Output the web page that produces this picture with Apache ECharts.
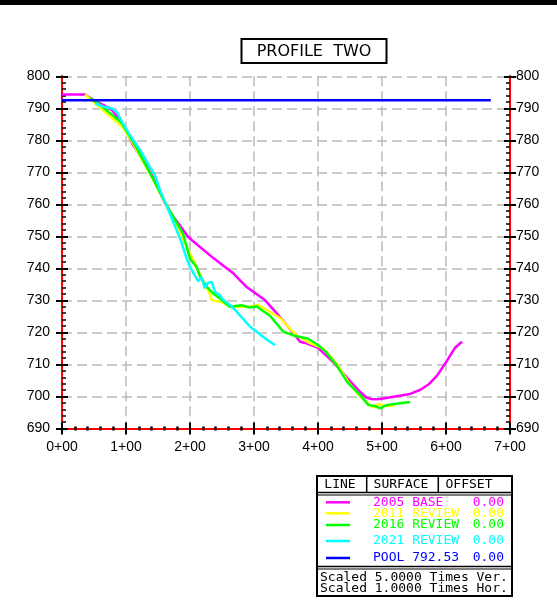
<!DOCTYPE html>
<html><head><meta charset="utf-8">
<script src="https://cdn.jsdelivr.net/npm/echarts@6/dist/echarts.min.js"></script>
<style>html,body{margin:0;padding:0;background:#fff}#c{width:557px;height:604px}</style>
</head><body><div id="c"></div>
<script>
// ---- data ----
const titleText = 'PROFILE  TWO';
const surfaceNames = ['2005 BASE', '2011 REVIEW', '2016 REVIEW', '2021 REVIEW', 'POOL 792.53'];
const offsets = ['0.00', '0.00', '0.00', '0.00', '0.00'];
const scaleNotes = ['Scaled 5.0000 Times Ver.', 'Scaled 1.0000 Times Hor.'];
const colors = ['#ff00ff', '#ffff00', '#00ff00', '#00ffff', '#0000ff'];

const base2005 = [[0,794.3],[36,794.3],[49,792.6],[65,791],[78,789.5],[88,787],[98,783.8],[111,778.5],[127,773.8],[145,767.5],[161,760.3],[174,756.1],[184,753.5],[197,749.9],[203,748.8],[236,743.3],[268,738.4],[289,734.1],[317,730.1],[336,725.9],[351,722.3],[362,719.7],[372,717.1],[382,716.6],[400,715.2],[425,710.5],[450,704.8],[466,701.4],[476,699.6],[486,699.1],[497,699.2],[518,699.9],[544,700.8],[560,702.1],[573,703.8],[586,706.5],[601,711],[614,715.2],[625,717.1]];
const review2011 = [[36,794.3],[96,783.8],[111,779],[143,767.6],[164,759.3],[184,751.2],[195,746.7],[205,742.6],[223,734.8],[229,733],[234,730.1],[247,729.6],[265,728],[283,728],[294,728],[307,728.6],[320,727],[341,724.5],[356,721.2],[367,719],[388,716.6],[408,715],[429,710.3],[447,704.6],[466,699.9],[481,697.3],[486,696.6],[494,697.6],[507,697],[520,697.2]];
const review2016 = [[44,793.2],[60,791],[93,785.5],[117,777.5],[143,767.6],[164,759.5],[189,750.9],[200,743],[210,740.5],[216,737.4],[226,734.3],[236,732.2],[247,730.6],[262,728],[281,728.5],[289,728],[294,727.8],[304,728.2],[314,726.7],[325,725.2],[335,722.8],[346,720.2],[366,718.8],[384,718.1],[398,716.4],[412,714],[429,709.8],[446,704.4],[466,700.4],[479,697.3],[489,697],[497,696.3],[507,697.3],[525,697.8],[544,698.3]];
const review2021 = [[52,791.5],[65,790.5],[78,790],[86,788.8],[93,786],[106,781.7],[122,777],[137,771.8],[145,769.2],[153,764.5],[164,759.3],[179,752],[186,748.5],[195,742.9],[200,740.5],[207,738],[213,736],[218,737.2],[223,733.8],[228,735.5],[234,735.8],[239,732.7],[247,731.5],[252,730.1],[263,728.5],[273,726.5],[278,725.3],[294,721.8],[312,719],[322,717.5],[333,716]];
const pool = [[0,792.53],[670,792.53]];
const xMin = 0, xMax = 700, xStep = 100;
const yMin = 690, yMax = 800, yStep = 10;

// ---- chart ----
const chart = echarts.init(document.getElementById('c'), null, {renderer:'canvas'});
const labelFont = 'Liberation Sans, Arial, sans-serif';
const mono = 'DejaVu Sans Mono, monospace';
const red = {show:true, onZero:false, lineStyle:{color:'#ff0000', width:2}};
const grid = {show:true, lineStyle:{color:'#bbbbbb', width:1.5, type:[10,5]}};

function xa(inside){
  return {type:'value', min:xMin, max:xMax, interval:xStep, position:'bottom',
    axisLine:red,
    axisTick:{show:true, inside:inside, length:6, lineStyle:{color:'#000', width:2}},
    minorTick:{show:true, splitNumber:5, length:2, lineStyle:{color:'#000', width:2.5}},
    axisLabel:{show:!inside, color:'#000', fontSize:14, fontFamily:labelFont, margin:12,
      formatter:v=>(v/100)+'+00'},
    splitLine: inside ? {show:false} : grid};
}
function ya(pos, inside){
  return {type:'value', min:yMin, max:yMax, interval:yStep, position:pos,
    axisLine:red,
    axisTick:{show:true, inside:inside, length:6, lineStyle:{color:'#000', width:2}},
    minorTick:{show:inside, splitNumber:5, length:4, lineStyle:{color:'#000', width:1.5}},
    axisLabel:{show:!inside, color:'#000', fontSize:14, fontFamily:labelFont, margin: pos==='left'?12:6},
    splitLine: (inside || pos==='right') ? {show:false} : grid};
}
function line(data, color){
  return {type:'line', data:data, xAxisIndex:0, yAxisIndex:0, showSymbol:false, symbol:'none',
    lineStyle:{color:color, width:2.5}, silent:true};
}

const g = [];
g.push({type:'rect', shape:{x:0,y:0,width:557,height:5}, style:{fill:'#000'}});
g.push({type:'rect', shape:{x:241.5,y:39,width:145,height:24}, style:{fill:'#fff', stroke:'#000', lineWidth:2}});
g.push({type:'text', x:314, y:51.5, style:{text:titleText, fill:'#000', font:'16px DejaVu Sans', align:'center', verticalAlign:'middle'}});
// legend table
const L = 317, T = 476, R = 512, B = 596;
g.push({type:'rect', shape:{x:L,y:T,width:R-L,height:B-T}, style:{fill:'#fff', stroke:'#000', lineWidth:2}});
g.push({type:'line', shape:{x1:366.7,y1:T,x2:366.7,y2:492.5}, style:{stroke:'#000', lineWidth:1.5}});
g.push({type:'line', shape:{x1:438.3,y1:T,x2:438.3,y2:492.5}, style:{stroke:'#000', lineWidth:1.5}});
g.push({type:'line', shape:{x1:L,y1:492.5,x2:R,y2:492.5}, style:{stroke:'#000', lineWidth:1.5}});
g.push({type:'line', shape:{x1:L,y1:495,x2:R,y2:495}, style:{stroke:'#000', lineWidth:1.2}});
g.push({type:'line', shape:{x1:L,y1:566.5,x2:R,y2:566.5}, style:{stroke:'#000', lineWidth:1.5}});
g.push({type:'line', shape:{x1:L,y1:569,x2:R,y2:569}, style:{stroke:'#000', lineWidth:1.2}});
const hdr = [['LINE',340],['SURFACE',401],['OFFSET',469]];
hdr.forEach(h=>g.push({type:'text', x:h[1], y:484.5, style:{text:h[0], fill:'#000', font:'13px '+mono, align:'center', verticalAlign:'middle'}}));
const rowY = [502.3, 513.3, 525, 541, 558];
surfaceNames.forEach((n,i)=>{
  g.push({type:'line', shape:{x1:326,y1:rowY[i],x2:350,y2:rowY[i]}, style:{stroke:colors[i], lineWidth:2.5}});
  g.push({type:'text', x:373, y:rowY[i], style:{text:n, fill:colors[i], font:'13px '+mono, align:'left', verticalAlign:'middle'}});
  g.push({type:'text', x:504, y:rowY[i], style:{text:offsets[i], fill:colors[i], font:'13px '+mono, align:'right', verticalAlign:'middle'}});
});
scaleNotes.forEach((s,i)=>g.push({type:'text', x:320, y:577.5+i*11, style:{text:s, fill:'#000', font:'13px '+mono, align:'left', verticalAlign:'middle'}}));

chart.setOption({
  animation:false,
  backgroundColor:'#fff',
  grid:{left:62, right:47, top:76.3, height:352.2, containLabel:false},
  xAxis:[xa(false), xa(true)],
  yAxis:[ya('left',false), ya('left',true), ya('right',false), ya('right',true)],
  series:[line(base2005,colors[0]), line(review2011,colors[1]), line(review2016,colors[2]), line(review2021,colors[3]), line(pool,colors[4])],
  graphic:g
});
</script></body></html>
